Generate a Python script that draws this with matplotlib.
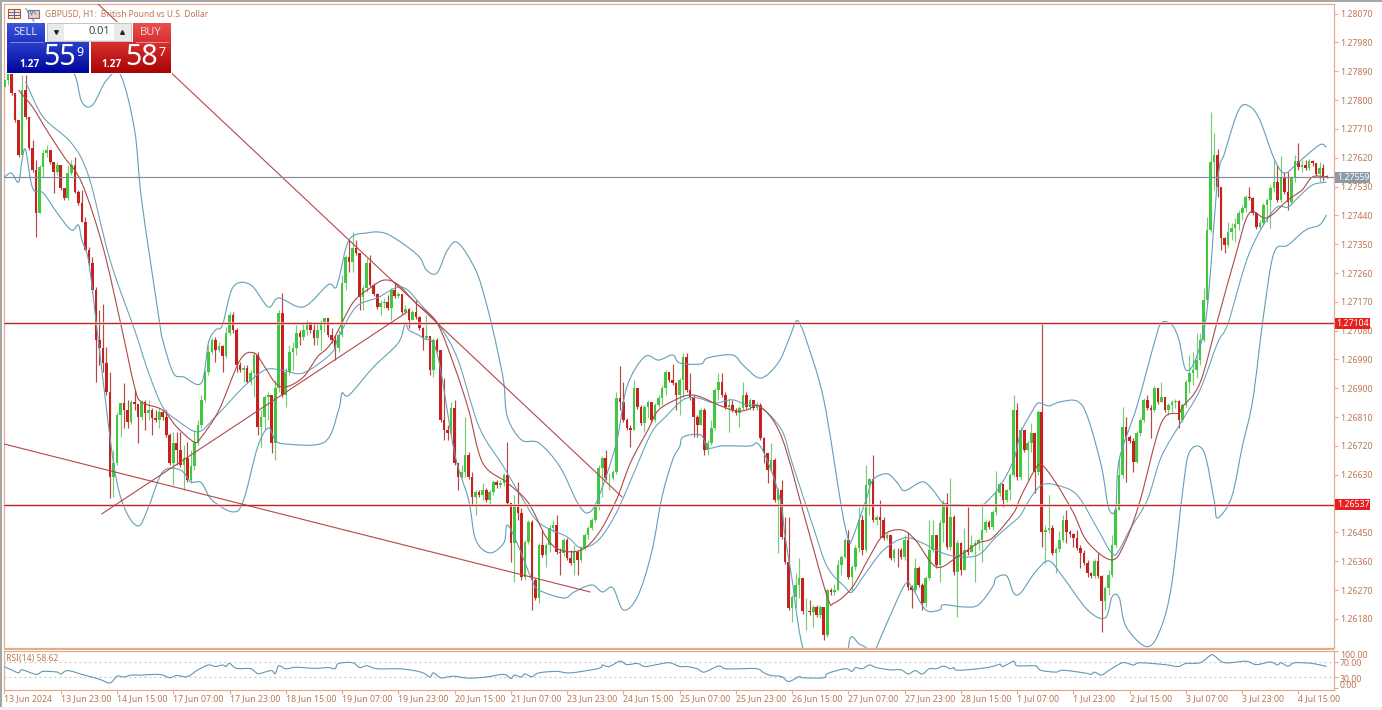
import numpy as np
import matplotlib
matplotlib.use("Agg")
import matplotlib.pyplot as plt
from matplotlib.patches import Rectangle, PathPatch
from matplotlib.path import Path

plt.rcParams['font.family'] = ['Noto Sans', 'DejaVu Sans']

# All prices: 1.2 + value * 1e-5
BASE = 1.2
closes = [
7862,7887,7822,7738,7628,7831,7747,7650,7581,7447,
7591,7635,7644,7606,7575,7597,7525,7494,7572,7597,
7513,7479,7419,7332,7291,7207,7051,7026,6979,6889,
6624,6667,6817,6854,6832,6795,6858,6852,6811,6858,
6823,6832,6808,6801,6826,6811,6754,6667,6730,6707,
6661,6683,6614,6658,6733,6786,6864,6951,7014,7051,
7020,7032,7001,7073,7129,7082,6973,6957,6964,6920,
6948,7004,6780,6811,6873,6879,6730,6901,7135,6879,
6951,7014,7026,7073,7061,7082,7107,7082,7057,7082,
7107,7120,7067,7051,7026,7067,7229,7310,7295,7338,
7323,7185,7213,7291,7223,7195,7154,7167,7170,7151,
7207,7188,7195,7139,7148,7114,7139,7123,7089,7057,
7064,6957,7051,7020,6802,6770,6761,6839,6667,6624,
6639,6692,6624,6561,6577,6568,6583,6552,6577,6608,
6599,6605,6630,6543,6418,6530,6511,6312,6421,6483,
6302,6246,6412,6380,6412,6465,6474,6390,6387,6427,
6371,6355,6390,6365,6402,6443,6465,6490,6530,6652,
6683,6621,6621,6639,6870,6858,6802,6777,6770,6901,
6842,6792,6842,6858,6802,6848,6870,6901,6951,6926,
6917,6880,6926,6998,6895,6873,6811,6786,6833,6708,
6730,6777,6895,6920,6880,6842,6848,6833,6823,6839,
6880,6842,6864,6839,6848,6745,6699,6646,6677,6552,
6583,6437,6358,6215,6249,6287,6309,6203,6203,6202,
6218,6193,6218,6131,6271,6265,6271,6349,6374,6427,
6312,6343,6402,6490,6396,6599,6618,6490,6499,6489,
6433,6443,6371,6396,6395,6374,6427,6281,6271,6340,
6287,6230,6309,6396,6443,6349,6480,6543,6405,6499,
6327,6418,6334,6396,6390,6412,6418,6427,6458,6483,
6468,6515,6574,6602,6552,6583,6630,6833,6624,6770,
6708,6730,6761,6639,6827,6452,6458,6465,6387,6399,
6427,6490,6452,6446,6433,6402,6387,6355,6324,6315,
6362,6315,6237,6277,6318,6412,6521,6630,6780,6749,
6736,6671,6761,6802,6864,6839,6833,6901,6858,6873,
6833,6848,6858,6861,6802,6848,6920,6948,6958,6989,
7051,7176,7394,7607,7628,7529,7369,7347,7388,7401,
7413,7447,7463,7497,7494,7447,7404,7416,7472,7488,
7525,7544,7488,7557,7513,7482,7557,7610,7591,7597,
7588,7610,7603,7569,7588,7563,7559]
highs = [
7887,7894,7887,7822,7738,7878,7878,7747,7675,7613,
7597,7644,7660,7644,7597,7606,7597,7525,7597,7613,
7622,7519,7519,7435,7341,7310,7217,7145,7164,7029,
6951,6708,6827,6854,6917,6864,6864,6895,6848,6864,
6864,6864,6839,6833,6839,6833,6833,6761,6764,6764,
6764,6723,6733,6708,6770,6802,6880,6958,7036,7057,
7061,7045,7036,7092,7139,7139,7089,6982,6973,6973,
6958,7014,7014,6833,6880,6889,6880,6926,7145,7198,
6964,7036,7045,7098,7082,7107,7114,7107,7107,7107,
7114,7120,7120,7089,7067,7082,7254,7316,7363,7388,
7363,7323,7223,7307,7316,7229,7198,7176,7182,7192,
7213,7232,7201,7195,7160,7151,7145,7176,7126,7092,
7129,7064,7057,7057,7020,6933,6786,6858,6864,6667,
6661,6811,6702,6639,6583,6583,6605,6589,6583,6614,
6614,6614,6636,6733,6543,6567,6608,6527,6427,6489,
6489,6309,6418,6458,6418,6474,6490,6505,6402,6433,
6433,6396,6412,6396,6408,6449,6471,6496,6536,6661,
6689,6708,6636,6645,6889,6970,6920,6808,6786,6926,
6901,6848,6848,6864,6817,6855,6880,6911,6958,6951,
6976,6920,6933,7011,7011,6948,6880,6817,6839,6839,
6739,6802,6901,6948,6948,6889,6870,6864,6839,6845,
6920,6889,6870,6864,6858,6855,6749,6699,6730,6683,
6589,6614,6499,6499,6256,6324,6371,6309,6246,6240,
6224,6224,6224,6203,6274,6277,6290,6365,6380,6433,
6458,6349,6412,6530,6505,6661,6621,6692,6505,6552,
6499,6449,6443,6402,6402,6402,6443,6452,6287,6371,
6346,6293,6315,6489,6489,6437,6489,6552,6574,6621,
6505,6427,6421,6465,6530,6443,6427,6433,6542,6489,
6489,6520,6642,6608,6602,6586,6636,6880,6855,6780,
6761,6739,6792,6761,6833,7104,6474,6567,6474,6405,
6455,6505,6520,6458,6449,6458,6412,6396,6364,6327,
6368,6387,6318,6283,6333,6442,6527,6683,6842,6811,
6754,6745,6767,6808,6870,6880,6848,6908,6901,6920,
6873,6855,6864,6867,6864,6855,6926,7004,7014,7073,
7073,7213,7435,7763,7697,7647,7529,7372,7419,7416,
7432,7457,7472,7503,7529,7497,7451,7425,7479,7494,
7535,7613,7597,7625,7575,7575,7563,7628,7666,7613,
7613,7616,7613,7603,7606,7600,7566]
lows = [
7753,7847,7816,7731,7622,7628,7741,7644,7575,7372,
7447,7560,7622,7600,7510,7566,7519,7488,7488,7566,
7510,7472,7419,7332,7285,7198,6920,6973,6951,6880,
6558,6561,6661,6749,6777,6777,6789,6833,6730,6802,
6770,6802,6754,6795,6777,6802,6749,6661,6598,6661,
6655,6583,6608,6605,6645,6723,6777,6858,6942,7007,
6982,7014,6951,6995,7067,7073,6951,6951,6920,6917,
6911,6873,6754,6717,6770,6802,6699,6677,6889,6873,
6842,6942,6958,7004,7036,7051,7067,7073,7036,7036,
7020,7076,7061,7042,6989,7014,7061,7207,7263,7263,
7316,7145,7145,7201,7217,7188,7148,7129,7151,7145,
7114,7182,7182,7132,7132,7089,7114,7117,7082,7020,
7051,6942,6936,7014,6795,6739,6739,6754,6661,6583,
6621,6624,6618,6536,6505,6561,6552,6546,6536,6567,
6589,6589,6596,6536,6358,6296,6489,6302,6302,6415,
6208,6239,6231,6374,6343,6390,6452,6383,6317,6377,
6364,6349,6317,6317,6358,6396,6430,6458,6483,6520,
6561,6614,6583,6614,6633,6832,6795,6770,6717,6770,
6836,6786,6764,6808,6795,6795,6842,6848,6880,6920,
6911,6833,6817,6873,6889,6864,6749,6749,6786,6692,
6692,6723,6770,6864,6873,6836,6764,6826,6817,6780,
6833,6836,6833,6833,6833,6739,6667,6605,6639,6545,
6387,6430,6352,6208,6171,6215,6246,6196,6146,6193,
6156,6187,6184,6114,6124,6256,6256,6287,6318,6371,
6306,6265,6334,6390,6380,6390,6505,6483,6474,6433,
6427,6427,6364,6358,6343,6368,6364,6271,6215,6265,
6281,6208,6218,6302,6390,6340,6296,6421,6399,6396,
6318,6187,6318,6380,6380,6390,6296,6396,6358,6452,
6461,6458,6505,6564,6530,6546,6552,6624,6614,6614,
6702,6614,6702,6574,6630,6405,6355,6449,6380,6324,
6390,6421,6418,6437,6405,6396,6340,6349,6312,6308,
6308,6308,6140,6208,6255,6312,6405,6520,6620,6608,
6730,6639,6667,6752,6795,6833,6745,6826,6852,6858,
6826,6817,6826,6839,6777,6795,6842,6886,6911,6933,
6973,7045,7170,7388,7519,7497,7332,7323,7341,7363,
7357,7394,7425,7451,7488,7441,7398,7398,7410,7419,
7401,7513,7482,7482,7507,7457,7472,7544,7581,7575,
7581,7581,7594,7563,7544,7547,7556]
first_open = 7840

lower_bar = [0,2,4,5,6,8,11,15,19,21,22,24,27,31,34,38,41,45,50,53,56,59,65,68,72,75,77,80,91,95,96,98,105,112,114,115,119,123,128,132,134,138,142,143,146,150,152,159,162,167,170,173,176,180,184,187,190,192,193,198,200,204,212,214,216,219,221,222,224,225,227,232,238,240,241,243,245,247,248,251,256,258,262,266,267,273,277,281,282,285,287,289,293,297,301,308,313,315,317,319,325,329,332,335,337,341,344,345,349,352,355,358,361,365,370,374,376]
lower_val = [7560,7572,7544,7613,7644,7525,7510,7447,7394,7410,7363,7291,7020,6667,6530,6470,6530,6639,6645,6608,6605,6551,6514,6551,6717,6776,6739,6726,6732,6832,6885,6879,6967,7042,7104,7082,7057,7010,6698,6551,6427,6386,6417,6473,6411,6302,6270,6245,6264,6286,6264,6277,6208,6249,6386,6561,6676,6717,6748,6754,6714,6720,6720,6729,6698,6614,6530,6436,6302,6217,6090,5900,5900,6090,6124,6102,6090,6060,6090,6168,6286,6280,6208,6208,6224,6217,6224,6280,6308,6314,6261,6261,6324,6361,6311,6208,6183,6249,6246,6155,6093,6155,6292,6573,6701,6704,6551,6495,6561,6717,6864,7123,7322,7347,7394,7410,7441]

upper_bar = [6,10,16,20,22,25,29,33,37,39,44,45,48,51,56,58,60,62,65,70,75,78,85,92,94,95,98,103,108,113,118,120,123,126,129,134,137,140,142,143,147,152,158,163,166,169,174,177,182,186,190,192,198,200,207,210,215,220,223,225,226,228,233,238,240,241,245,247,251,254,256,261,264,267,271,278,279,283,287,289,292,294,297,300,305,308,312,314,316,317,322,327,329,332,334,336,339,342,345,347,351,354,357,361,364,368,374,376]
upper_val = [8087,8018,7925,7878,7794,7784,7862,7878,7706,7488,7113,7051,6948,6935,6917,7042,7082,7098,7216,7223,7154,7182,7154,7223,7213,7238,7363,7385,7385,7354,7310,7269,7260,7332,7354,7269,7166,7029,6917,6811,6739,6729,6654,6542,6511,6561,6729,6904,6998,6988,7004,6979,6976,6995,7004,6973,6932,6979,7051,7107,7104,7051,6864,6530,6427,6427,6551,6614,6633,6604,6580,6608,6583,6542,6536,6533,6542,6592,6676,6761,6823,6854,6845,6857,6860,6811,6654,6526,6526,6676,6842,7042,7104,7098,7051,6957,6998,7145,7550,7635,7769,7781,7738,7619,7572,7606,7660,7653]

mid_bar = [6,11,19,24,30,37,41,45,49,55,60,68,74,79,85,93,95,100,106,113,119,124,129,135,142,147,152,160,164,169,174,179,184,188,193,197,202,207,211,215,221,224,230,234,239,241,245,250,256,261,266,271,277,282,287,289,292,295,299,305,311,315,317,320,325,329,335,340,345,348,354,361,365,368,372,376]
mid_val = [7856,7747,7666,7560,7301,7082,6948,6842,6801,6764,6811,6904,6957,6957,6948,7010,7060,7154,7182,7216,7154,7091,6988,6779,6654,6561,6480,6436,6402,6427,6511,6636,6761,6811,6864,6870,6854,6864,6848,6842,6770,6667,6467,6342,6280,6264,6324,6395,6433,6417,6389,6374,6380,6436,6483,6505,6561,6598,6598,6567,6458,6383,6395,6458,6551,6686,6801,6895,7042,7104,7322,7457,7466,7497,7535,7544]

ma_bar = [4,8,12,17,22,28,33,37,39,45,49,54,56,61,67,71,74,77,80,85,89,93,99,104,108,112,117,123,128,132,136,143,149,154,158,164,169,174,178,183,186,192,195,198,203,208,211,215,221,228,234,236,241,246,250,255,259,265,271,277,281,287,289,293,295,299,304,308,315,319,323,329,334,335,340,345,350,354,359,365,369,372,376]
ma_val = [7831,7778,7706,7622,7541,7341,7104,6904,6857,6832,6779,6732,6748,6832,6988,7010,6967,6917,6904,6935,6998,7042,7166,7213,7238,7223,7166,7104,6967,6832,6667,6605,6542,6436,6395,6395,6448,6551,6667,6770,6832,6870,6879,6873,6848,6829,6832,6842,6748,6480,6249,6230,6277,6374,6442,6458,6427,6342,6374,6417,6433,6511,6561,6645,6661,6605,6511,6420,6364,6427,6551,6792,6823,6842,6917,7113,7310,7447,7432,7488,7519,7560,7560]

rsi_bar = [0,2,4,5,9,11,15,16,18,22,27,30,32,34,36,39,43,45,47,49,52,55,58,60,62,63,64,66,70,72,74,76,77,78,80,83,88,92,94,95,99,101,103,106,112,116,119,121,122,124,126,128,132,137,142,144,145,147,148,150,152,157,161,169,170,172,175,177,180,182,185,189,192,194,197,199,203,205,209,214,216,218,221,223,226,227,233,234,239,241,242,244,246,248,252,255,257,259,261,263,265,267,269,270,271,277,281,283,284,287,288,293,294,295,299,301,307,309,310,312,314,318,321,323,330,332,334,336,340,343,344,347,353,356,360,362,363,365,367,372,376]
rsi_val = [57,49,41,49,37,45,43,38,47,37,24,14,32,30,35,35,37,35,28,34,31,49,62,58,62,58,66,53,52,39,43,47,39,60,52,56,53,55,52,66,68,55,60,52,52,48,41,30,41,28,30,32,27,30,37,26,35,30,38,31,41,45,41,53,62,58,72,63,66,58,62,68,58,58,52,43,59,52,52,52,41,34,31,18,31,28,28,39,52,45,55,52,62,55,49,49,38,47,38,52,52,59,52,55,48,52,58,64,58,72,60,60,53,47,43,48,41,37,43,35,47,68,62,68,63,60,58,66,68,88,87,68,72,63,70,62,68,59,68,66,58]

trend_a_bar, trend_a_val = [26.6, 175.6], [8100, 6561]
trend_b_bar, trend_b_val = [-0.1, 166.5], [6726, 6264]
trend_c_bar, trend_c_val = [27.7, 114.5], [6508, 7138]

price_ticks = [8070,7980,7890,7800,7710,7620,7530,7440,7350,7260,7170,7080,6990,6900,6810,6720,6630,6450,6360,6270,6180]
level_red = [7104, 6537]
last_price = 7559
rsi_levels = [70, 30]
time_labels = ["13 Jun 2024","13 Jun 23:00","14 Jun 15:00","17 Jun 07:00","17 Jun 23:00","18 Jun 15:00",
               "19 Jun 07:00","19 Jun 23:00","20 Jun 15:00","21 Jun 07:00","23 Jun 23:00","24 Jun 15:00",
               "25 Jun 07:00","25 Jun 23:00","26 Jun 15:00","27 Jun 07:00","27 Jun 23:00","28 Jun 15:00",
               "1 Jul 07:00","1 Jul 23:00","2 Jul 15:00","3 Jul 07:00","3 Jul 23:00","4 Jul 15:00"]
TICK_EVERY = 16

assert len(closes) == len(highs) == len(lows) == 377, (len(closes), len(highs), len(lows))
for a, b in [(lower_bar, lower_val), (upper_bar, upper_val), (mid_bar, mid_val), (ma_bar, ma_val), (rsi_bar, rsi_val)]:
    assert len(a) == len(b), (len(a), len(b))

def P(v):
    return BASE + np.asarray(v, dtype=float) * 1e-5

W, H = 1382, 710
TXT = '#bd7650'
FRAME = '#e2ab8d'
GREEN = '#42c742'
RED = '#c6201f'
BLUE = '#629fb8'
LINE_RED = '#ab4a48'

fig = plt.figure(figsize=(W/100, H/100), dpi=100, facecolor='white')

def axes_px(l, t, r, b, **kw):
    return fig.add_axes([l/W, 1-b/H, (r-l)/W, (b-t)/H], **kw)

def smooth_line(a, xs, ys, color, lw, zorder):
    """Stroke a rounded curve that passes through the read points."""
    xs, ys = np.asarray(xs, float), np.asarray(ys, float)
    tx = np.gradient(xs)
    ty = np.gradient(ys)
    verts = [(xs[0], ys[0])]
    codes = [Path.MOVETO]
    for i in range(len(xs) - 1):
        verts += [(xs[i] + tx[i]/3, ys[i] + ty[i]/3),
                  (xs[i+1] - tx[i+1]/3, ys[i+1] - ty[i+1]/3),
                  (xs[i+1], ys[i+1])]
        codes += [Path.CURVE4] * 3
    a.add_patch(PathPatch(Path(verts, codes), fc='none', ec=color, lw=lw, zorder=zorder))

ax = axes_px(4, 4, 1334, 648)
rsi = axes_px(4, 651, 1334, 690)
ax.set_xlim(-0.14, 378.1)
rsi.set_xlim(-0.14, 378.1)
ax.set_ylim(P(6089), P(8100))
rsi.set_ylim(-4.7, 99.3)

c = np.array(closes, float)
o = np.r_[first_open, c[:-1]]
h = np.maximum(np.maximum(np.array(highs, float), o), c)
l = np.minimum(np.minimum(np.array(lows, float), o), c)
x = np.arange(len(c))
up = c >= o
cols = np.where(up, GREEN, RED)
wick_cols = np.where(up, '#78cc78', '#b84644')

ax.vlines(x, P(l), P(h), colors=wick_cols, lw=0.85, zorder=2)
ax.bar(x, P(np.abs(c - o) + 0.001) - BASE, bottom=P(np.minimum(o, c)), width=0.74, color=cols, lw=0, zorder=3)

smooth_line(ax, upper_bar, P(upper_val), BLUE, 0.8, 4)
smooth_line(ax, lower_bar, P(lower_val), BLUE, 0.8, 4)
smooth_line(ax, mid_bar, P(mid_val), BLUE, 0.75, 4)
smooth_line(ax, ma_bar, P(ma_val), LINE_RED, 0.8, 4)

for tb, tv in [(trend_a_bar, trend_a_val), (trend_b_bar, trend_b_val), (trend_c_bar, trend_c_val)]:
    ax.plot(tb, P(tv), color='#b5474a', lw=0.8, zorder=5)
for lv in level_red:
    ax.axhline(P(lv), color='#f6d6d2', lw=1.8, zorder=4.5)
    ax.axhline(P(lv), color='#b92a2c', lw=0.85, zorder=5)
ax.axhline(P(last_price), color='#7e8c9b', lw=0.85, zorder=5)

ax.set_yticks(P(price_ticks))
ax.set_yticklabels([f"{BASE + v*1e-5:.5f}" for v in price_ticks])
ax.yaxis.tick_right()
ax.tick_params(axis='y', length=3, width=0.8, color=FRAME, labelcolor=TXT, labelsize=6.3, pad=1.5)
ax.set_xticks([])

smooth_line(rsi, rsi_bar, rsi_val, '#6399b0', 0.8, 3)
for lv in rsi_levels:
    rsi.axhline(lv, color='#c9c9c9', lw=0.9, ls=(0, (1.5, 2.5)), zorder=1)
xt = np.arange(len(time_labels)) * TICK_EVERY
rsi.set_xticks(xt)
rsi.set_xticklabels(time_labels, ha='left')
rsi.tick_params(axis='x', length=3, width=0.8, color=FRAME, labelcolor=TXT, labelsize=6.3, pad=0)
rsi.yaxis.tick_right()
rsi.set_yticks([0, 30, 70, 98])
rsi.set_yticklabels([])
rsi.tick_params(axis='y', length=3, width=0.8, color=FRAME)

for a in (ax, rsi):
    for s in a.spines.values():
        s.set_color(FRAME)
        s.set_linewidth(0.9)

ov = fig.add_axes([0, 0, 1, 1], zorder=10)
ov.set_xlim(0, W)
ov.set_ylim(H, 0)
ov.axis('off')
ov.patch.set_alpha(0)

# Window edges and pane separator
ov.add_patch(Rectangle((0, 0), 2.2, H, color='#a6a6a6', lw=0))
ov.add_patch(Rectangle((0, 0), W, 2.2, color='#a6a6a6', lw=0))
ov.add_patch(Rectangle((0, 707), W, 3, color='#eeeeee', lw=0))
ov.add_patch(Rectangle((4, 647.5), 1330, 2.6, color=FRAME, lw=0))

# Price axis flags
for lv, col, yy in [(last_price, '#8c9aa9', 177.5), (level_red[0], '#e5201f', 323.5), (level_red[1], '#e5201f', 504.5)]:
    ov.add_patch(Rectangle((1335.5, yy - 5.5), 35, 11, color=col, lw=0))
    ov.text(1353, yy, f"{BASE + lv*1e-5:.5f}", color='white', fontsize=6.3, ha='center', va='center')

# RSI scale text
for lab, yy in [("100.00", 655), ("70.00", 663), ("30.00", 679), ("0.00", 686)]:
    ov.text(1340, yy, lab, color=TXT, fontsize=6.3, ha='left', va='center')
ov.text(6, 658, "RSI(14) 58.62", color=TXT, fontsize=6.2, ha='left', va='center')

# Title and icons
ov.text(45, 14, "GBPUSD, H1:  British Pound vs U.S. Dollar", color=TXT, fontsize=6.05, ha='left', va='center')
ov.add_patch(Rectangle((8.5, 9), 11.5, 9, fc='#f6e6dc', ec='#b3563c', lw=0.8))
ov.plot([8.5, 20], [12, 12], color='#b3563c', lw=0.7)
ov.plot([8.5, 20], [15, 15], color='#3a5fa0', lw=0.7)
ov.plot([14, 14], [9, 18], color='#3a5fa0', lw=0.7)
ov.add_patch(Rectangle((28, 10), 11, 8, fc='#f0c9c0', ec='#7b6f9a', lw=0.8))
ov.plot([30, 31.5, 33, 36], [10, 15, 11, 14], color='#4f8fb0', lw=0.7)

def grad(x0, y0, x1, y1, top, bot):
    t = np.linspace(0, 1, 40)[:, None, None]
    a = np.array(matplotlib.colors.to_rgb(top))[None, None, :]
    b = np.array(matplotlib.colors.to_rgb(bot))[None, None, :]
    ov.imshow(a*(1-t) + b*t, extent=(x0, x1, y1, y0), aspect='auto', zorder=1, interpolation='bilinear')

# Trade panel
ov.add_patch(Rectangle((6, 22), 166, 52, color='white', lw=0, zorder=0.5))
grad(7, 23, 45, 42, '#3d55d8', '#1f34c0')
grad(7, 42, 89, 73, '#2a3fcc', '#00069a')
grad(133, 23, 171, 42, '#e85050', '#d63030')
grad(91, 42, 171, 73, '#d82e2e', '#a80404')
ov.add_patch(Rectangle((47, 23), 84, 18, fc='#e9e9e9', ec='#c4c4c4', lw=0.7, zorder=2))
ov.add_patch(Rectangle((64, 24), 50, 16, fc='white', lw=0, zorder=3))
ov.plot([10, 43], [41.5, 41.5], color='#8d9ae8', lw=0.6, zorder=4)
ov.plot([136, 168], [41.5, 41.5], color='#f09a9a', lw=0.6, zorder=4)
ov.plot([56], [32], marker='v', ms=2.6, color='#222222', zorder=4)
ov.plot([122], [32], marker='^', ms=2.6, color='#222222', zorder=4)
ov.text(25.5, 32.5, "SELL", color='#dfe4ff', fontsize=8, ha='center', va='center', zorder=5)
ov.text(151, 32.5, "BUY", color='#f8d0d0', fontsize=8, ha='center', va='center', zorder=5)
ov.text(110, 32, "0.01", color='#444444', fontsize=8, ha='right', va='center', zorder=5)
for x0, big, sup in [(19, "55", "9"), (101.5, "58", "7")]:
    ov.text(x0, 64.5, "1.27", color='white', fontsize=7.2, fontweight='bold', family='Open Sans', ha='left', va='center', zorder=5)
    ov.text(x0 + 24, 57.5, big, color='white', fontsize=20.5, ha='left', va='center', zorder=5)
    ov.text(x0 + 57.5, 52, sup, color='white', fontsize=9, ha='left', va='center', zorder=5)
ov.set_xlim(0, W)
ov.set_ylim(H, 0)

fig.savefig('out.png', dpi=100, facecolor='white')
